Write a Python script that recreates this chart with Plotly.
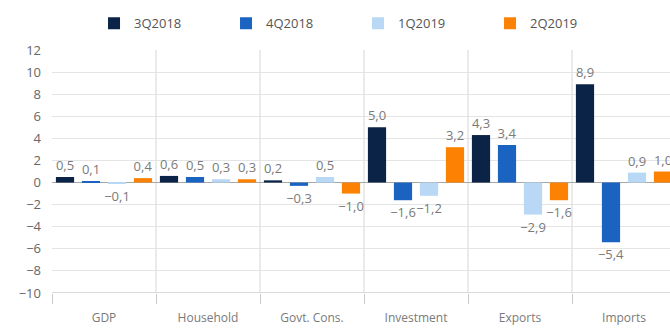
import plotly.graph_objects as go

categories = ["GDP", "Household<br>Cons.", "Govt. Cons.", "Investment", "Exports", "Imports"]
series_names = ["3Q2018", "4Q2018", "1Q2019", "2Q2019"]
q3_2018 = [0.5, 0.6, 0.2, 5.0, 4.3, 8.9]
q4_2018 = [0.1, 0.5, -0.3, -1.6, 3.4, -5.4]
q1_2019 = [-0.1, 0.3, 0.5, -1.2, -2.9, 0.9]
q2_2019 = [0.4, 0.3, -1.0, 3.2, -1.6, 1.0]
colors = ["#0b2346", "#1b63c0", "#b8d8f5", "#fd8204"]
y_ticks = [-10, -8, -6, -4, -2, 0, 2, 4, 6, 8, 10, 12]


def fmt(v):
    return f"{v:.1f}".replace(".", ",").replace("-", "\u2212")


fig = go.Figure()
for name, vals, col in zip(series_names, [q3_2018, q4_2018, q1_2019, q2_2019], colors):
    fig.add_trace(go.Bar(
        name=name, x=categories, y=vals,
        marker=dict(color=col, line=dict(width=0)),
        text=[fmt(v) for v in vals],
        textposition="outside",
        constraintext="none",
        cliponaxis=True,
        textfont=dict(family="Open Sans", size=13, color="#7a7a7a"),
    ))

fig.update_layout(
    width=670, height=329,
    margin=dict(l=52, r=0, t=50, b=36),
    paper_bgcolor="white", plot_bgcolor="white",
    barmode="group", bargap=0.0, bargroupgap=0.3,
    font=dict(family="Open Sans", color="#777777"),
    showlegend=True,
    legend=dict(
        orientation="h", x=0.068, xanchor="left", y=1.11, yanchor="middle",
        entrywidth=87, entrywidthmode="pixels",
        font=dict(size=13, color="#555555"),
        itemclick=False, traceorder="normal",
    ),
    xaxis=dict(
        range=[-0.5, 5.5 - 6 / 104],
        tickson="boundaries", ticks="outside", ticklen=10, tickcolor="#cccccc",
        showgrid=False,
        showline=False, zeroline=False,
        tickfont=dict(size=12, color="#7a7a7a"),
        ticklabelstandoff=16,
        automargin=False,
        fixedrange=True,
    ),
    yaxis=dict(
        range=[-10, 12], tickvals=y_ticks,
        showgrid=True, gridcolor="#e4e4e4", gridwidth=1,
        zeroline=True, zerolinecolor="#a8a8a8", zerolinewidth=1,
        showline=False,
        tickfont=dict(size=13, color="#666666"),
        ticklabelstandoff=10,
        automargin=False,
        fixedrange=True,
    ),
)

# separators between categories
for i in range(len(categories) - 1):
    fig.add_shape(type="line", xref="x", yref="paper", x0=i + 0.5, x1=i + 0.5, y0=0, y1=1,
                  line=dict(color="#d6d6d6", width=1), layer="below")

# bottom axis line at -10
fig.add_shape(type="line", xref="paper", yref="y", x0=0, x1=1, y0=-10, y1=-10,
              line=dict(color="#cfcfcf", width=1.5), layer="below")

fig.write_html("out.html", config=dict(displayModeBar=False))
